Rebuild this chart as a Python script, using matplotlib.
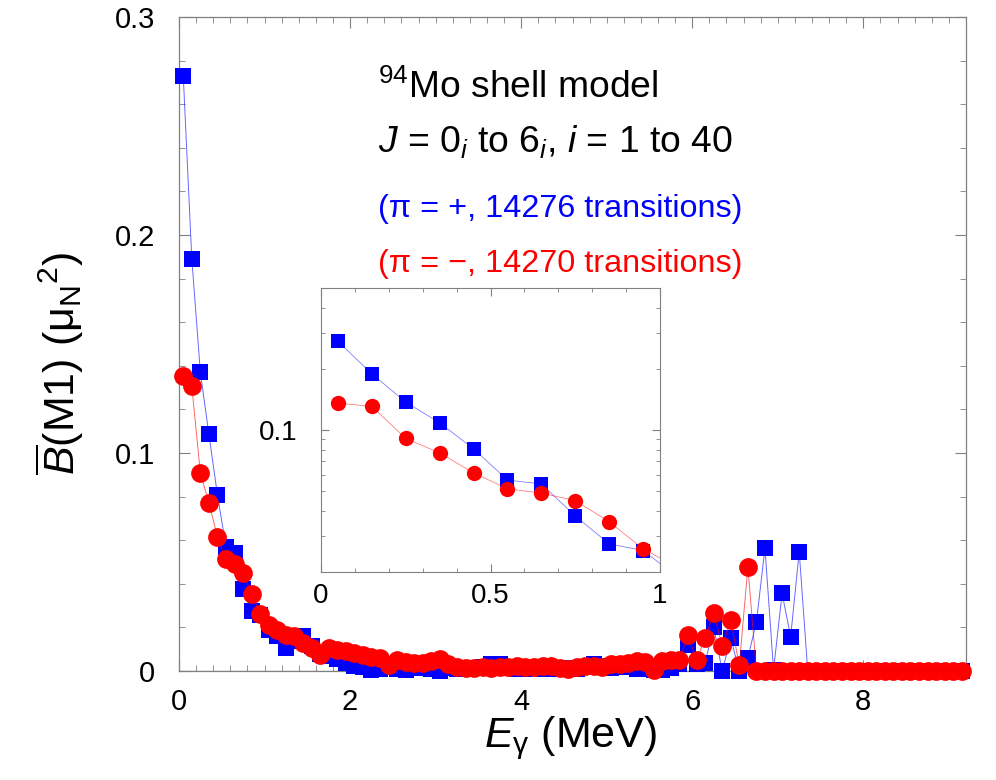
import numpy as np
import matplotlib
matplotlib.use("Agg")
import matplotlib.pyplot as plt
from matplotlib.ticker import MultipleLocator, LogLocator, FixedLocator, FuncFormatter, NullFormatter

plt.rcParams['font.family'] = ['Liberation Sans', 'DejaVu Sans']
plt.rcParams['mathtext.fontset'] = 'custom'
plt.rcParams['mathtext.rm'] = 'Liberation Sans'
plt.rcParams['mathtext.it'] = 'Liberation Sans:italic'
plt.rcParams['mathtext.bf'] = 'Liberation Sans:bold'

# bin centres, 0.1 MeV bins
e_gamma = np.round(np.arange(0.05, 9.2, 0.1), 2)

# pi = +  (blue squares)
b_plus = [0.273, 0.189, 0.137, 0.1085, 0.0807, 0.0567, 0.0542, 0.0377, 0.0275, 0.0255,
          0.0190, 0.0160, 0.0104, 0.0140, 0.0160, 0.0115, 0.0080, 0.0070, 0.0055, 0.0035,
          0.0025, 0.0018, 0.0005, 0.0010, 0.0020, 0.0008, 0.0005, 0.0012, 0.0015, 0.0010,
          0.0000, 0.0015, 0.0010, 0.0008, 0.0012, 0.0020, 0.0030, 0.0032, 0.0015, 0.0010,
          0.0008, 0.0012, 0.0010, 0.0008, 0.0015, 0.0012, 0.0010, 0.0020, 0.0030, 0.0025,
          0.0015, 0.0020, 0.0020, 0.0010, 0.0008, 0.0005, 0.0005, 0.0015, 0.0030, 0.0120,
          0.0030, 0.0037, 0.0203, 0.0000, 0.0150, 0.0000, 0.0060, 0.0226, 0.0563, 0.0005,
          0.0356, 0.0157, 0.0547, 0.0, 0.0, 0.0, 0.0, 0.0, 0.0, 0.0,
          0.0, 0.0, 0.0, 0.0, 0.0, 0.0, 0.0, 0.0, 0.0, 0.0,
          0.0, 0.0]

# pi = -  (red circles)
b_minus = [0.1355, 0.1306, 0.0908, 0.0771, 0.0615, 0.0513, 0.0489, 0.0449, 0.0353, 0.0260,
           0.0211, 0.0188, 0.0165, 0.0160, 0.0127, 0.0105, 0.0073, 0.0105, 0.0096, 0.0093,
           0.0081, 0.0073, 0.0063, 0.0058, 0.0028, 0.0050, 0.0043, 0.0035, 0.0035, 0.0045,
           0.0055, 0.0030, 0.0020, 0.0015, 0.0012, 0.0018, 0.0015, 0.0020, 0.0018, 0.0022,
           0.0020, 0.0018, 0.0022, 0.0025, 0.0012, 0.0010, 0.0018, 0.0022, 0.0025, 0.0020,
           0.0030, 0.0032, 0.0035, 0.0048, 0.0040, 0.0005, 0.0045, 0.0052, 0.0050, 0.0165,
           0.0050, 0.0150, 0.0268, 0.0115, 0.0232, 0.0026, 0.0478, 0.0, 0.0, 0.0,
           0.0, 0.0, 0.0, 0.0, 0.0, 0.0, 0.0, 0.0, 0.0, 0.0,
           0.0, 0.0, 0.0, 0.0, 0.0, 0.0, 0.0, 0.0, 0.0, 0.0,
           0.0, 0.0]

def fmt(v, pos):
    if abs(v) < 1e-9:
        return "0"
    return "%g" % v

fig = plt.figure(figsize=(9.96, 7.8), dpi=100)
ax = fig.add_axes([0.1797, 0.1397, 0.7902, 0.8385])

ax.plot(e_gamma, b_plus, "-", color="blue", lw=0.7, alpha=0.6, clip_on=False, zorder=3)
ax.plot(e_gamma, b_plus, "s", color="blue", ms=11, mew=0, clip_on=False, zorder=3)
ax.plot(e_gamma, b_minus, "-", color="red", lw=0.7, alpha=0.6, clip_on=False, zorder=4)
ax.plot(e_gamma, b_minus, "o", color="red", ms=13.5, mew=0, clip_on=False, zorder=4)
ax.axhline(0, color="black", lw=0.8, zorder=5)

ax.set_xlim(0, 9.2)
ax.set_ylim(0, 0.3)
ax.xaxis.set_major_locator(FixedLocator([0, 2, 4, 6, 8]))
ax.xaxis.set_minor_locator(MultipleLocator(0.2))
ax.yaxis.set_major_locator(MultipleLocator(0.1))
ax.yaxis.set_minor_locator(MultipleLocator(0.02))
ax.xaxis.set_major_formatter(FuncFormatter(fmt))
ax.yaxis.set_major_formatter(FuncFormatter(fmt))
ax.tick_params(which="both", direction="in", top=True, right=True, color="gray")
ax.tick_params(which="major", length=8, labelsize=21)
ax.tick_params(which="minor", length=4)
ax.tick_params(axis="y", pad=17)
ax.tick_params(axis="x", pad=12)
for s in ax.spines.values():
    s.set_color("gray")
    s.set_linewidth(0.9)

ax.set_xlabel(r"$E_{\mathrm{\gamma}}$ (MeV)", fontsize=31)
ax.xaxis.set_label_coords(0.497, -0.066)
ax.set_ylabel(r"$\overline{B}$(M1) ($\mathrm{\mu}_{\mathrm{N}}{}^{2}$)", fontsize=31)
ax.yaxis.set_label_coords(-0.118, 0.471)

ax.text(0.2529, 0.876, r"$^{94}$Mo shell model", transform=ax.transAxes, fontsize=26.8, va="baseline")
ax.text(0.2529, 0.7936, r"$J$ = 0$_i$ to 6$_i$, $i$ = 1 to 40", transform=ax.transAxes, fontsize=26.8, va="baseline")
ax.text(0.2529, 0.694, "(π = +, 14276 transitions)", transform=ax.transAxes, fontsize=23.3, color="blue", va="baseline")
ax.text(0.2529, 0.610, "(π = \u2212, 14270 transitions)", transform=ax.transAxes, fontsize=23.3, color="red", va="baseline")

# inset, log scale
ins = fig.add_axes([0.3223, 0.2667, 0.3404, 0.3641])
ins.plot(e_gamma[:11], b_plus[:11], "-", color="blue", lw=0.6, alpha=0.5, zorder=3)
ins.plot(e_gamma[:11], b_plus[:11], "s", color="blue", ms=9.5, mew=0, zorder=3)
ins.plot(e_gamma[:11], b_minus[:11], "-", color="red", lw=0.6, alpha=0.5, zorder=4)
ins.plot(e_gamma[:11], b_minus[:11], "o", color="red", ms=11, mew=0, zorder=4)
ins.set_yscale("log")
ins.set_xlim(0, 1)
ins.set_ylim(0.02, 0.5)
ins.xaxis.set_major_locator(FixedLocator([0, 0.5, 1]))
ins.xaxis.set_major_formatter(FuncFormatter(fmt))
ins.xaxis.set_minor_locator(MultipleLocator(0.1))
ins.yaxis.set_major_locator(FixedLocator([0.1]))
ins.yaxis.set_major_formatter(FuncFormatter(fmt))
ins.yaxis.set_minor_locator(LogLocator(base=10, subs=np.arange(2, 10)))
ins.yaxis.set_minor_formatter(NullFormatter())
ins.tick_params(which="both", direction="in", top=True, right=True, color="gray")
ins.tick_params(which="major", length=6, labelsize=20)
ins.tick_params(which="minor", length=3)
ins.tick_params(axis="y", pad=17)
ins.tick_params(axis="x", pad=8)
for s in ins.spines.values():
    s.set_color("gray")
    s.set_linewidth(0.8)

plt.savefig("out.png", dpi=100)
